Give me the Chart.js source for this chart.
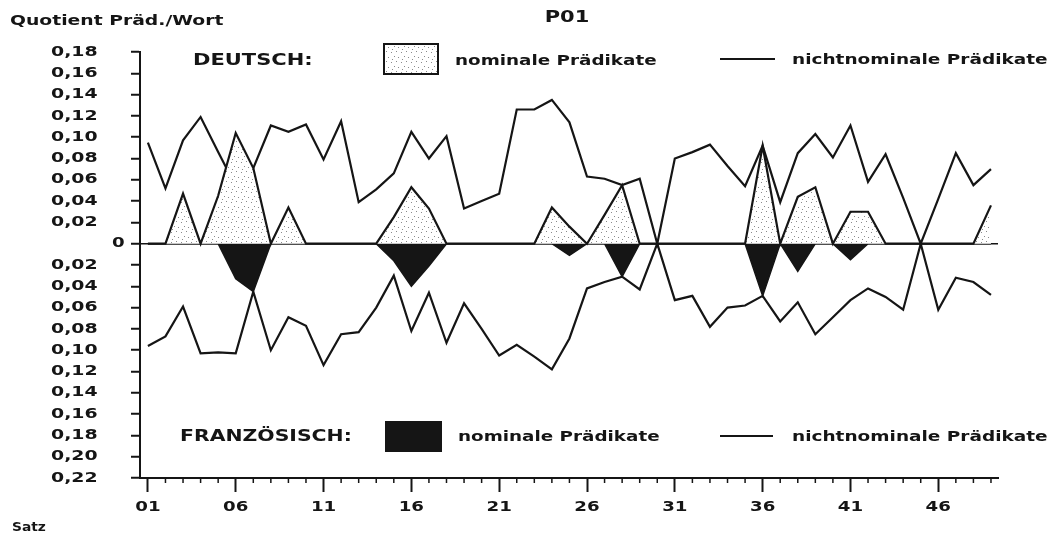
<!DOCTYPE html>
<html>
<head>
<meta charset="utf-8">
<script src="https://cdn.jsdelivr.net/npm/chart.js@4/dist/chart.umd.min.js"></script>
<style>
  body { margin: 0; background: #fff; }
  #wrap { width: 1051px; height: 539px; }
</style>
</head>
<body>
<div id="wrap"><canvas id="p01" width="1051" height="539"></canvas></div>
<script>
// Satz 01..49
const satz = [1, 2, 3, 4, 5, 6, 7, 8, 9, 10, 11, 12, 13, 14, 15, 16, 17, 18, 19, 20,
  21, 22, 23, 24, 25, 26, 27, 28, 29, 30, 31, 32, 33, 34, 35, 36, 37, 38, 39, 40,
  41, 42, 43, 44, 45, 46, 47, 48, 49];

// Deutsch (positive)
const deNominal = [0, 0, 0.047, 0, 0.045, 0.104, 0.071, 0, 0.034, 0,
  0, 0, 0, 0, 0.025, 0.053, 0.033, 0, 0, 0,
  0, 0, 0, 0.034, 0.016, 0, 0.027, 0.055, 0, 0,
  0, 0, 0, 0, 0, 0.092, 0, 0.044, 0.053, 0,
  0.030, 0.030, 0, 0, 0, 0, 0, 0, 0.036];
const deNichtNominal = [0.095, 0.052, 0.097, 0.119, 0.086, 0.054, 0.071, 0.111, 0.105, 0.112,
  0.079, 0.115, 0.039, 0.051, 0.066, 0.105, 0.080, 0.101, 0.033, 0.040,
  0.047, 0.126, 0.126, 0.135, 0.114, 0.063, 0.061, 0.055, 0.061, 0,
  0.080, 0.086, 0.093, 0.073, 0.054, 0.092, 0.039, 0.085, 0.103, 0.081,
  0.111, 0.058, 0.084, 0.043, 0, 0.042, 0.085, 0.055, 0.070];

// Französisch (drawn downwards)
const frNominal = [0, 0, 0, 0, 0, -0.033, -0.045, 0, 0, 0,
  0, 0, 0, 0, -0.016, -0.040, -0.021, 0, 0, 0,
  0, 0, 0, 0, -0.011, 0, 0, -0.031, 0, 0,
  0, 0, 0, 0, 0, -0.049, 0, -0.026, 0, 0,
  -0.015, 0, 0, 0, 0, 0, 0, 0, 0];
const frNichtNominal = [-0.096, -0.087, -0.059, -0.103, -0.102, -0.103, -0.045, -0.100, -0.069, -0.077,
  -0.114, -0.085, -0.083, -0.060, -0.030, -0.082, -0.046, -0.093, -0.056, -0.080,
  -0.105, -0.095, -0.106, -0.118, -0.089, -0.042, -0.036, -0.031, -0.043, 0,
  -0.053, -0.049, -0.078, -0.060, -0.058, -0.049, -0.073, -0.055, -0.085, -0.069,
  -0.053, -0.042, -0.050, -0.062, 0, -0.062, -0.032, -0.036, -0.048];

const xMajor = [1, 6, 11, 16, 21, 26, 31, 36, 41, 46];
const xTickLabels = ['01', '06', '11', '16', '21', '26', '31', '36', '41', '46'];
const yTickValues = [-0.22, -0.20, -0.18, -0.16, -0.14, -0.12, -0.10, -0.08, -0.06, -0.04, -0.02,
  0, 0.02, 0.04, 0.06, 0.08, 0.10, 0.12, 0.14, 0.16, 0.18];
const yTickLabels = ['0,22', '0,20', '0,18', '0,16', '0,14', '0,12', '0,10', '0,08', '0,06', '0,04', '0,02',
  '0', '0,02', '0,04', '0,06', '0,08', '0,10', '0,12', '0,14', '0,16', '0,18'];

const INK = '#151515';
const FONT = '"DejaVu Sans", "Liberation Sans", sans-serif';

function dotPattern() {
  const c = document.createElement('canvas');
  c.width = 10; c.height = 10;
  const g = c.getContext('2d');
  g.fillStyle = '#fff';
  g.fillRect(0, 0, 10, 10);
  g.fillStyle = '#8a8a8a';
  [[1, 2], [6, 1], [4, 6], [8, 7], [2, 9]].forEach(([x, y]) => g.fillRect(x, y, 1, 1));
  return g.createPattern(c, 'repeat');
}
const dots = dotPattern();

// the old plotter font is wide, so text is stretched sideways
function say(ctx, text, x, y, size, sx, align) {
  ctx.save();
  ctx.translate(x, y);
  ctx.scale(sx, 1);
  ctx.font = `bold ${size}px ${FONT}`;
  ctx.textAlign = align || 'left';
  ctx.textBaseline = 'middle';
  ctx.fillText(text, 0, 0);
  ctx.restore();
}

const decor = {
  id: 'decor',
  afterDraw(chart) {
    const { ctx, scales: { x, y } } = chart;
    ctx.save();
    ctx.fillStyle = INK;
    ctx.strokeStyle = INK;

    // minor ticks on the Satz axis
    ctx.lineWidth = 1.5;
    satz.filter(s => !xMajor.includes(s)).forEach(s => {
      const px = x.getPixelForValue(s);
      ctx.beginPath();
      ctx.moveTo(px, y.bottom);
      ctx.lineTo(px, y.bottom + 5);
      ctx.stroke();
    });

    // tick labels, placed by the scales
    x.ticks.forEach(t => {
      if (t.label) say(ctx, t.label, x.getPixelForValue(t.value), 507, 14, 1.3, 'center');
    });
    y.ticks.forEach(t => {
      const py = y.getPixelForValue(t.value);
      if (t.value === 0) say(ctx, t.label, 112, py, 14, 1.3);
      else say(ctx, t.label, 51, py, 14, 1.35);
    });

    say(ctx, 'Quotient Präd./Wort', 10, 21, 14, 1.34);
    say(ctx, 'P01', 567, 18, 15, 1.4, 'center');
    say(ctx, 'Satz', 12, 528, 12, 1.15);

    // legend Deutsch
    say(ctx, 'DEUTSCH:', 193, 61, 15, 1.4);
    ctx.fillStyle = dots;
    ctx.fillRect(384, 44, 54, 30);
    ctx.fillStyle = INK;
    ctx.lineWidth = 2;
    ctx.strokeRect(384, 44, 54, 30);
    say(ctx, 'nominale Prädikate', 455, 61, 14, 1.31);
    ctx.lineWidth = 2.2;
    ctx.beginPath();
    ctx.moveTo(720, 59); ctx.lineTo(775, 59);
    ctx.stroke();
    say(ctx, 'nichtnominale Prädikate', 792, 60, 14, 1.32);

    // legend Französisch
    say(ctx, 'FRANZÖSISCH:', 180, 437, 15, 1.36);
    ctx.fillRect(385, 421, 57, 31);
    say(ctx, 'nominale Prädikate', 458, 437, 14, 1.31);
    ctx.beginPath();
    ctx.moveTo(720, 436); ctx.lineTo(773, 436);
    ctx.stroke();
    say(ctx, 'nichtnominale Prädikate', 792, 437, 14, 1.32);

    ctx.restore();
  }
};

new Chart(document.getElementById('p01'), {
  type: 'line',
  data: {
    labels: satz,
    datasets: [
      {
        label: 'DEUTSCH nominale Prädikate',
        data: deNominal,
        fill: 'origin',
        backgroundColor: dots,
        borderColor: INK,
        borderWidth: 2.2
      },
      {
        label: 'FRANZÖSISCH nominale Prädikate',
        data: frNominal,
        fill: 'origin',
        backgroundColor: INK,
        borderColor: INK,
        borderWidth: 1.5
      },
      {
        label: 'DEUTSCH nichtnominale Prädikate',
        data: deNichtNominal,
        fill: false,
        borderColor: INK,
        borderWidth: 2.2
      },
      {
        label: 'FRANZÖSISCH nichtnominale Prädikate',
        data: frNichtNominal,
        fill: false,
        borderColor: INK,
        borderWidth: 2.2
      }
    ]
  },
  options: {
    responsive: false,
    animation: false,
    layout: { padding: { left: 50, top: 52, right: 53, bottom: 0 } },
    elements: { point: { radius: 0 }, line: { tension: 0, borderJoinStyle: 'miter' } },
    plugins: { legend: { display: false }, tooltip: { enabled: false } },
    scales: {
      x: {
        type: 'linear',
        min: 0.55,
        max: 49.4,
        afterBuildTicks: s => { s.ticks = satz.map(v => ({ value: v })); },
        afterFit: s => { s.height = 61; },
        border: { color: INK, width: 2 },
        grid: {
          drawOnChartArea: false,
          tickLength: 14,
          tickWidth: 2,
          tickColor: c => xMajor.includes(c.tick.value) ? INK : 'rgba(0,0,0,0)'
        },
        ticks: {
          display: false,
          autoSkip: false,
          maxRotation: 0,
          callback: v => {
            const i = xMajor.indexOf(v);
            return i < 0 ? '' : xTickLabels[i];
          }
        }
      },
      y: {
        min: -0.22,
        max: 0.18,
        afterBuildTicks: s => { s.ticks = yTickValues.map(v => ({ value: v })); },
        afterFit: s => { s.width = 90; },
        border: { color: INK, width: 2 },
        grid: {
          color: c => c.tick && c.tick.value === 0 ? INK : 'rgba(0,0,0,0)',
          lineWidth: 1.5,
          tickLength: 9,
          tickWidth: 2,
          tickColor: INK
        },
        ticks: {
          display: false,
          callback: v => {
            const i = yTickValues.findIndex(t => Math.abs(t - v) < 1e-9);
            return i < 0 ? '' : yTickLabels[i];
          }
        }
      }
    }
  },
  plugins: [decor]
});
</script>
</body>
</html>
